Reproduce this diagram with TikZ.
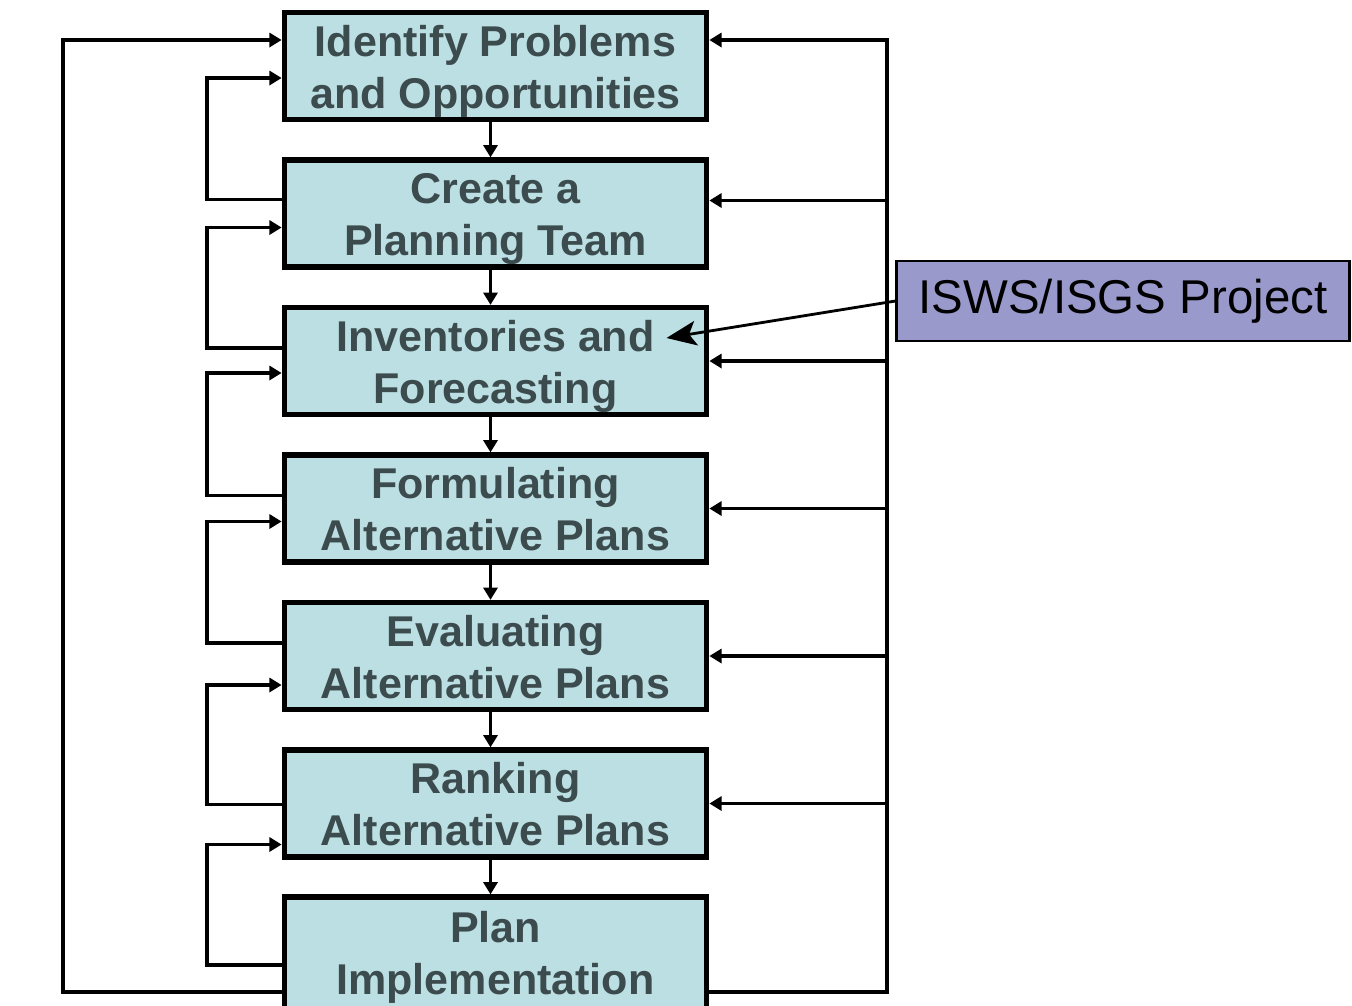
\documentclass[tikz,border=0pt]{standalone}
\usepackage{fontspec}
\setmainfont{Liberation Sans}
\usetikzlibrary{arrows.meta,calc}
\definecolor{boxfill}{HTML}{BBDFE2}
\definecolor{boxtext}{HTML}{3C4B4D}
\definecolor{projfill}{HTML}{9999CC}

\begin{document}
\begin{tikzpicture}[x=0.02cm,y=-0.02cm,
  stage/.style={draw, line width=3pt, fill=boxfill, text=boxtext, minimum width=8.45cm, minimum height=2.14cm, align=center, text height=48pt, text depth=0pt, font=\bfseries\fontsize{24.5}{29.5}\selectfont},
  fb/.style={line width=2.2pt, -{Triangle[length=7pt,width=8pt]}}]
\useasboundingbox (0,0) rectangle (1352,1005);
% planning steps
\node [stage] (ident) at (495.5,66) {Identify Problems\\and Opportunities};
\node [stage] (team) at (495.5,213.5) {Create a\\Planning Team};
\node [stage] (invent) at (495.5,361) {Inventories and\\Forecasting};
\node [stage] (formul) at (495.5,508.5) {Formulating\\Alternative Plans};
\node [stage] (evalu) at (495.5,656) {Evaluating\\Alternative Plans};
\node [stage] (rank) at (495.5,803.5) {Ranking\\Alternative Plans};
\node [stage, minimum height=2.32cm, text height=45pt] (implem) at (495.5,955) {Plan\\Implementation};
\node [draw, line width=1.5pt, fill=projfill, minimum width=9.05cm, minimum height=1.6cm, font=\fontsize{27}{32}\selectfont] (isws) at (1123,301) {ISWS/ISGS Project};
% down the chain
\draw [fb] ([xshift=-0.1cm]ident.south) -- ([xshift=-0.1cm]team.north);
\draw [fb] ([xshift=-0.1cm]team.south) -- ([xshift=-0.1cm]invent.north);
\draw [fb] ([xshift=-0.1cm]invent.south) -- ([xshift=-0.1cm]formul.north);
\draw [fb] ([xshift=-0.1cm]formul.south) -- ([xshift=-0.1cm]evalu.north);
\draw [fb] ([xshift=-0.1cm]evalu.south) -- ([xshift=-0.1cm]rank.north);
\draw [fb] ([xshift=-0.1cm]rank.south) -- ([xshift=-0.1cm]implem.north);
% left feedback
\draw [fb] ($(team.west)+(0,-14)$) -- ++(-75,0) |- ($(ident.west)+(0,12)$);
\draw [fb] ($(invent.west)+(0,-13)$) -- ++(-75,0) |- ($(team.west)+(0,14)$);
\draw [fb] ($(formul.west)+(0,-13)$) -- ++(-75,0) |- ($(invent.west)+(0,12)$);
\draw [fb] ($(evalu.west)+(0,-13)$) -- ++(-75,0) |- ($(formul.west)+(0,13)$);
\draw [fb] ($(rank.west)+(0,1)$) -- ++(-75,0) |- ($(evalu.west)+(0,29)$);
\draw [fb] ($(implem.west)+(0,10)$) -- ++(-75,0) |- ($(rank.west)+(0,41)$);
\draw [fb] ($(implem.west)+(0,37)$) -- ++(-219,0) |- ($(ident.west)+(0,-26)$);
% right feedback
\coordinate (rbus) at (887,0);
\draw [fb] ($(implem.east)+(0,37)$) -- ++(178,0) |- ($(ident.east)+(0,-26)$);
\draw [fb] ($(rbus |- team)+(0,-13)$) -- ($(team.east)+(0,-13)$);
\draw [fb] (rbus |- invent) -- (invent);
\draw [fb] (rbus |- formul) -- (formul);
\draw [fb] (rbus |- evalu) -- (evalu);
\draw [fb] (rbus |- rank) -- (rank);
% project pointer
\coordinate (invtip) at ($(invent.center)+(171,-23)$);
\draw [line width=1.6pt, -{Stealth[length=17pt,width=14pt,inset=4pt]}] (isws.west) -- (invtip);
\end{tikzpicture}
\end{document}
